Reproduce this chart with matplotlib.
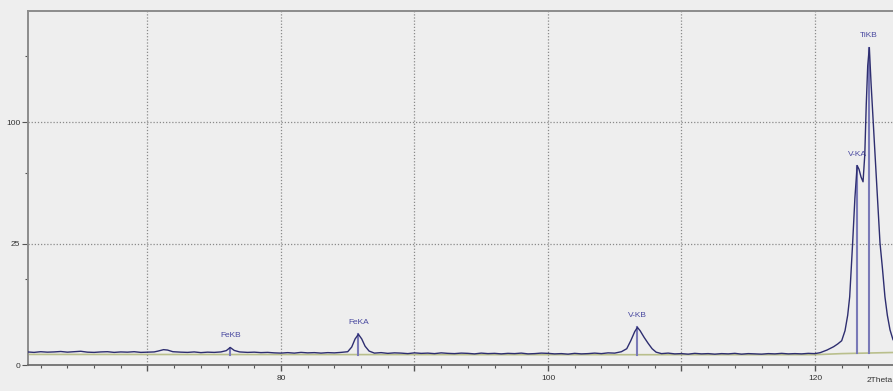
"""XRF scan around the Fe / V / Ti K lines, square-root intensity axis

"""

import numpy as np
import matplotlib
matplotlib.use('Agg')
import matplotlib.pyplot as plt
from matplotlib.ticker import FixedLocator, NullFormatter


# spectrum (2theta in degrees, intensity)
two_theta = [
    61.0, 61.5, 62.0, 62.5, 63.0, 63.5, 64.0, 64.5, 65.0, 65.5,
    66.0, 66.5, 67.0, 67.5, 68.0, 68.5, 69.0, 69.5, 70.0, 70.5,
    70.8, 71.2, 71.5, 71.9, 72.5, 73.0, 73.5, 74.0, 74.5, 75.0,
    75.5, 75.9, 76.2, 76.5, 76.9, 77.5, 78.0, 78.5, 79.0, 79.5,
    80.0, 80.5, 81.0, 81.5, 82.0, 82.5, 83.0, 83.5, 84.0, 84.5,
    85.0, 85.3, 85.55, 85.8, 86.05, 86.3, 86.6, 87.0, 87.5, 88.0,
    88.5, 89.0, 89.5, 90.0, 90.5, 91.0, 91.5, 92.0, 92.5, 93.0,
    93.5, 94.0, 94.5, 95.0, 95.5, 96.0, 96.5, 97.0, 97.5, 98.0,
    98.5, 99.0, 99.5, 100.0, 100.5, 101.0, 101.5, 102.0, 102.5, 103.0,
    103.5, 104.0, 104.5, 105.0, 105.5, 105.9, 106.2, 106.5, 106.7, 106.9,
    107.2, 107.5, 107.8, 108.1, 108.5, 109.0, 109.5, 110.0, 110.5, 111.0,
    111.5, 112.0, 112.5, 113.0, 113.5, 114.0, 114.5, 115.0, 115.5, 116.0,
    116.5, 117.0, 117.5, 118.0, 118.5, 119.0, 119.5, 120.0, 120.4, 120.9,
    121.4, 121.7, 122.0, 122.25, 122.45, 122.6, 122.82, 122.99, 123.16, 123.3,
    123.45, 123.6, 123.73, 123.84, 123.95, 124.07, 124.2, 124.37, 124.5, 124.66,
    124.77, 124.87, 125.05, 125.24, 125.42, 125.62, 125.84, 126.2,
]
counts = [
    0.29, 0.27, 0.30, 0.28, 0.29, 0.31, 0.28, 0.30, 0.32, 0.28,
    0.27, 0.29, 0.30, 0.27, 0.29, 0.28, 0.30, 0.27, 0.28, 0.29,
    0.33, 0.40, 0.38, 0.30, 0.28, 0.27, 0.29, 0.26, 0.28, 0.27,
    0.29, 0.35, 0.52, 0.36, 0.29, 0.27, 0.28, 0.26, 0.27, 0.25,
    0.24, 0.26, 0.24, 0.27, 0.25, 0.26, 0.24, 0.26, 0.25, 0.27,
    0.30, 0.55, 1.15, 1.60, 1.15, 0.60, 0.33, 0.24, 0.26, 0.23,
    0.25, 0.24, 0.22, 0.25, 0.23, 0.24, 0.22, 0.25, 0.23, 0.22,
    0.24, 0.23, 0.21, 0.24, 0.22, 0.23, 0.21, 0.23, 0.22, 0.24,
    0.21, 0.22, 0.24, 0.23, 0.21, 0.22, 0.20, 0.23, 0.21, 0.22,
    0.24, 0.22, 0.25, 0.24, 0.30, 0.45, 1.00, 1.90, 2.40, 2.00,
    1.30, 0.80, 0.45, 0.28, 0.22, 0.24, 0.21, 0.22, 0.20, 0.23,
    0.21, 0.22, 0.20, 0.22, 0.21, 0.23, 0.20, 0.22, 0.21, 0.20,
    0.22, 0.21, 0.23, 0.21, 0.22, 0.21, 0.23, 0.22, 0.26, 0.38,
    0.57, 0.75, 1.00, 2.00, 4.20, 7.90, 25.2, 47.4, 67.5, 65.0,
    60.0, 57.0, 75.0, 115.0, 152.0, 171.0, 135.0, 99.4, 75.0, 50.0,
    36.0, 25.3, 16.0, 7.9, 4.2, 2.1, 1.1, 0.6,
]

# fitted background
bg_theta = [61.0, 100.0, 120.0, 122.0, 126.2]
bg_counts = [0.19, 0.18, 0.18, 0.22, 0.27]

# identified lines
line_names = ['FeKB', 'FeKA', 'V-KB', 'V-KA', 'TiKB']
line_theta = [76.2, 85.8, 106.7, 123.18, 124.05]
line_height = [0.52, 1.60, 2.40, 67.0, 171.0]

y_major = [0, 25, 100, 225]
y_minor = [12.5, 62.5, 162.5]
x_labels = {80: '80', 100: '100', 120: '120'}


def sqrt_fwd(v):
    return np.sqrt(np.clip(v, 0, None))


def sqrt_inv(v):
    return np.asarray(v) ** 2


def main():
    bg = '#eeeeee'
    W, H = 893, 391
    fig = plt.figure(figsize=(W / 100, H / 100), dpi=100, facecolor=bg)
    plt.rcParams['font.family'] = ['Liberation Sans', 'DejaVu Sans']

    # axes runs off the right edge of the picture, as in the scan
    left, bottom, top = 28, 365, 10.5
    xmin, xmax = 61.05, 127.0
    px_per_deg = 13.35
    ax = fig.add_axes([left / W, 1 - bottom / H,
                       (xmax - xmin) * px_per_deg / W, (bottom - top) / H])
    ax.set_facecolor(bg)

    ax.set_yscale('function', functions=(sqrt_fwd, sqrt_inv))
    ax.set_xlim(xmin, xmax)
    ax.set_ylim(0, 213.4)

    # grid
    for x in range(70, 130, 10):
        ax.axvline(x, color='#8a8a8a', lw=0.9, ls=(0, (1, 1.5)), zorder=1)
    for y in [25, 100]:
        ax.axhline(y, color='#8a8a8a', lw=0.9, ls=(0, (1, 1.5)), zorder=1)

    ax.plot(bg_theta, bg_counts, color='#b9bf8c', lw=1.2, zorder=2)

    for name, t, h in zip(line_names, line_theta, line_height):
        base = np.interp(t, bg_theta, bg_counts)
        ax.plot([t, t], [base, h], color='#7a7ab8', lw=1.5, zorder=2)
        ax.annotate(name, (t, h), xytext=(0, 12), textcoords='offset pixels',
                    ha='center', va='center', fontsize=6, color='#4a4aa0')

    ax.plot(two_theta, counts, color='#2e2e70', lw=1.0, zorder=3)

    # ticks
    ax.yaxis.set_major_locator(FixedLocator(y_major))
    ax.yaxis.set_minor_locator(FixedLocator(y_minor))
    ax.set_yticklabels([str(v) for v in y_major])
    ax.yaxis.set_minor_formatter(NullFormatter())
    ax.xaxis.set_major_locator(FixedLocator(list(range(70, 130, 10))))
    ax.xaxis.set_minor_locator(FixedLocator(list(range(62, 128, 2))))
    ax.set_xticklabels([x_labels.get(v, '') for v in range(70, 130, 10)])
    ax.tick_params(axis='both', which='both', direction='out', labelsize=6,
                   colors='#555555', labelcolor='#333333')
    ax.tick_params(axis='x', which='major', length=4, width=1, pad=3)
    ax.tick_params(axis='x', which='minor', length=2, width=0.8)
    ax.tick_params(axis='y', which='major', length=4, width=0.8, pad=1.5)
    ax.tick_params(axis='y', which='minor', length=2, width=0.8)

    for side in ['left', 'top']:
        ax.spines[side].set_color('#8c8c8c')
        ax.spines[side].set_linewidth(1.4)
    ax.spines['bottom'].set_color('#666666')
    ax.spines['bottom'].set_linewidth(1.2)
    ax.spines['right'].set_visible(False)

    fig.text(867 / W, 1 - 380 / H, '2Theta', fontsize=6, color='#333333',
             ha='left', va='center')

    fig.savefig('out.png', dpi=100, facecolor=bg)


if __name__ == '__main__':
    main()
